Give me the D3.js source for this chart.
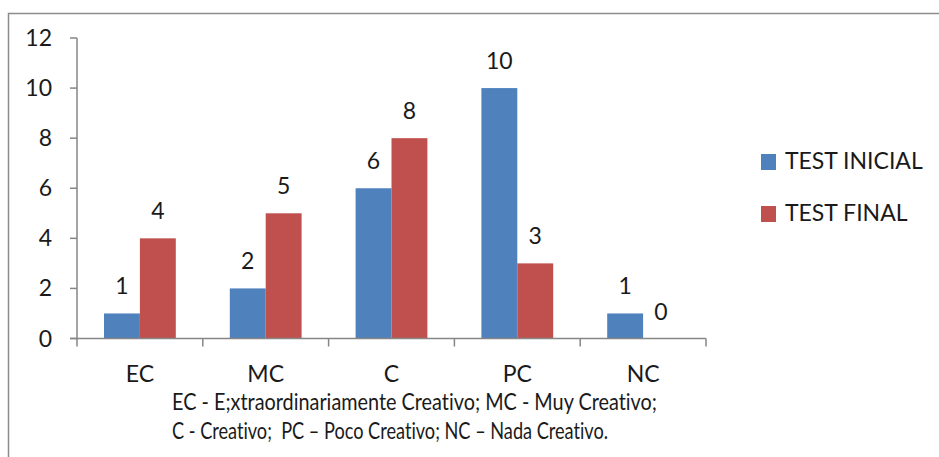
<!DOCTYPE html>
<html><head><meta charset="utf-8">
<script src="https://cdn.jsdelivr.net/npm/d3@7"></script>
<style>body{margin:0;background:#fff}svg{display:block}text{font-family:Lato,"Open Sans",sans-serif;fill:#1a1a1a;font-variant-ligatures:none;white-space:pre}</style>
</head><body>
<script>
const categories = ["EC","MC","C","PC","NC"];
const seriesNames = ["TEST INICIAL","TEST FINAL"];
const testInicial = [1,2,6,10,1];
const testFinal = [4,5,8,3,0];
const yTicks = [0,2,4,6,8,10,12];
const caption = ["EC - E;xtraordinariamente Creativo; MC - Muy Creativo;","C - Creativo;  PC – Poco Creativo; NC – Nada Creativo."];
const colors = ["#4F81BD","#C0504D"];

const W=939,H=457;
const svg=d3.select("body").append("svg").attr("width",W).attr("height",H);
svg.append("rect").attr("x",8.5).attr("y",13.5).attr("width",940).attr("height",460).attr("fill","none").attr("stroke","#8c8c8c").attr("stroke-width",1.5);

const x0=d3.scaleBand().domain(categories).range([77,706]);
const x1=d3.scaleBand().domain(seriesNames).range([27,x0.bandwidth()-27]);
const y=d3.scaleLinear().domain([0,12]).range([338.5,38]);
const axisColor="#868686";
const fs=23;

// y axis
svg.append("line").attr("x1",77).attr("x2",77).attr("y1",y(12)).attr("y2",y(0)).attr("stroke",axisColor).attr("stroke-width",1.5);
yTicks.forEach(t=>{
  svg.append("line").attr("x1",70).attr("x2",77).attr("y1",y(t)).attr("y2",y(t)).attr("stroke",axisColor).attr("stroke-width",1.5);
  svg.append("text").attr("x",52).attr("y",y(t)+8).attr("text-anchor","end").attr("font-size",fs).text(t);
});

const data=categories.map((c,i)=>({c,vals:[testInicial[i],testFinal[i]]}));
const g=svg.selectAll("g.cat").data(data).enter().append("g").attr("transform",d=>`translate(${x0(d.c)},0)`);
g.selectAll("rect").data(d=>d.vals.map((v,j)=>({v,s:seriesNames[j],j}))).enter().append("rect")
  .attr("x",d=>x1(d.s)).attr("width",x1.bandwidth()).attr("y",d=>y(d.v)).attr("height",d=>y(0)-y(d.v))
  .attr("fill",d=>colors[d.j]);
g.selectAll("text.val").data(d=>d.vals.map((v,j)=>({v,s:seriesNames[j],j}))).enter().append("text")
  .attr("x",d=>x1(d.s)+x1.bandwidth()/2).attr("y",d=>y(d.v)-19).attr("text-anchor","middle").attr("font-size",fs).text(d=>d.v);

// x axis
svg.append("line").attr("x1",70).attr("x2",706).attr("y1",y(0)).attr("y2",y(0)).attr("stroke",axisColor).attr("stroke-width",1.5);
categories.concat([null]).forEach((c,i)=>{
  const xx = c===null ? 706 : x0(c);
  svg.append("line").attr("x1",xx).attr("x2",xx).attr("y1",y(0)).attr("y2",y(0)+8).attr("stroke",axisColor).attr("stroke-width",1.5);
});
categories.forEach(c=>{
  svg.append("text").attr("x",x0(c)+x0.bandwidth()/2).attr("y",382).attr("text-anchor","middle").attr("font-size",fs).text(c);
});
const capLen=[485,436];
caption.forEach((t,i)=>{
  svg.append("text").attr("x",172).attr("y",410+i*29).attr("font-size",fs)
    .attr("textLength",capLen[i]).attr("lengthAdjust","spacingAndGlyphs").text(t);
});

// legend
seriesNames.forEach((s,i)=>{
  svg.append("rect").attr("x",761).attr("y",154+i*52).attr("width",15).attr("height",16).attr("fill",colors[i]);
  svg.append("text").attr("x",785).attr("y",169+i*52).attr("font-size",fs).text(s);
});
</script>
</body></html>
